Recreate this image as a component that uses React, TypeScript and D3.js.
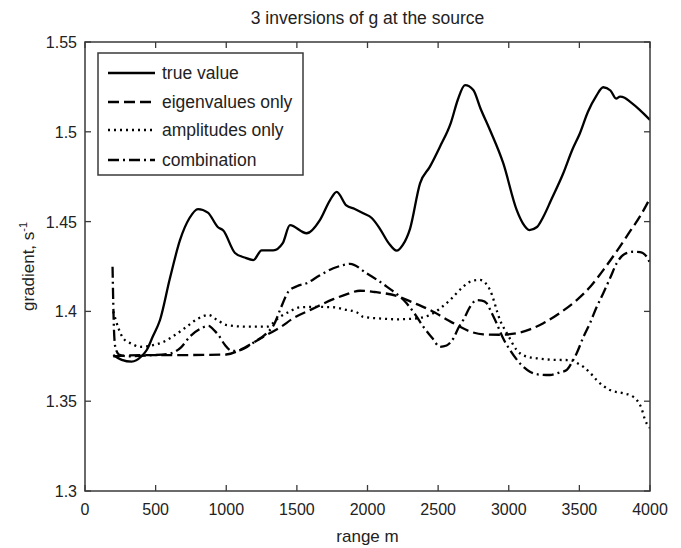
import React from "react";
import * as d3 from "d3";

// Range (m) and gradient (1/s) samples for each inversion
const trueX = [200, 260, 330, 400, 437, 480, 531, 600, 673, 740, 800, 870, 940, 979, 1062, 1130, 1192, 1251, 1333, 1400, 1451, 1569, 1664, 1735, 1782, 1850, 1910, 1970, 2030, 2088, 2150, 2206, 2250, 2301, 2372, 2442, 2513, 2590, 2640, 2690, 2749, 2800, 2867, 2961, 3056, 3100, 3146, 3200, 3245, 3300, 3386, 3450, 3504, 3560, 3620, 3669, 3720, 3760, 3788, 3820, 3858, 3929, 4000];
const trueY = [1.3757, 1.373, 1.372, 1.375, 1.3785, 1.386, 1.3952, 1.418, 1.4398, 1.452, 1.457, 1.455, 1.447, 1.445, 1.4325, 1.43, 1.4286, 1.434, 1.434, 1.438, 1.448, 1.4435, 1.451, 1.462, 1.4666, 1.459, 1.457, 1.4546, 1.452, 1.446, 1.438, 1.4338, 1.437, 1.446, 1.4713, 1.4806, 1.4917, 1.505, 1.518, 1.526, 1.5233, 1.513, 1.501, 1.4825, 1.4565, 1.449, 1.4453, 1.447, 1.4527, 1.462, 1.4769, 1.49, 1.4992, 1.511, 1.52, 1.5248, 1.523, 1.5185, 1.5196, 1.519, 1.5168, 1.5121, 1.5066];

const eigenX = [200, 400, 700, 1000, 1097, 1200, 1286, 1380, 1475, 1600, 1758, 1850, 1947, 2050, 2206, 2320, 2442, 2540, 2632, 2720, 2820, 2940, 3056, 3150, 3245, 3360, 3481, 3580, 3669, 3760, 3858, 3930, 4000];
const eigenY = [1.375, 1.3757, 1.3757, 1.376, 1.3785, 1.383, 1.3869, 1.391, 1.3962, 1.401, 1.4068, 1.4095, 1.4115, 1.4108, 1.4086, 1.405, 1.4008, 1.3965, 1.3924, 1.389, 1.3872, 1.387, 1.3878, 1.39, 1.3934, 1.399, 1.4063, 1.414, 1.423, 1.433, 1.4445, 1.453, 1.463];

const ampX = [200, 240, 271, 330, 389, 470, 554, 640, 720, 800, 873, 940, 1003, 1144, 1286, 1381, 1450, 1522, 1640, 1758, 1840, 1923, 1970, 2100, 2206, 2330, 2442, 2520, 2584, 2678, 2740, 2796, 2867, 2938, 3000, 3056, 3120, 3197, 3330, 3434, 3490, 3528, 3580, 3622, 3717, 3811, 3870, 3906, 3940, 3965, 4000];
const ampY = [1.4, 1.39, 1.385, 1.382, 1.3803, 1.381, 1.383, 1.387, 1.3915, 1.396, 1.398, 1.395, 1.3924, 1.3915, 1.3915, 1.397, 1.4, 1.4023, 1.4025, 1.4023, 1.401, 1.3995, 1.397, 1.396, 1.3956, 1.396, 1.398, 1.402, 1.4063, 1.4138, 1.417, 1.4175, 1.412, 1.3952, 1.386, 1.3785, 1.375, 1.3739, 1.373, 1.3729, 1.371, 1.3692, 1.3655, 1.3618, 1.3562, 1.3544, 1.353, 1.3507, 1.346, 1.3396, 1.335];

const combX = [195, 200, 205, 215, 240, 300, 450, 600, 680, 743, 810, 873, 920, 944, 991, 1040, 1100, 1200, 1286, 1340, 1381, 1440, 1500, 1569, 1660, 1758, 1829, 1876, 1994, 2136, 2277, 2340, 2395, 2460, 2513, 2560, 2608, 2645, 2678, 2730, 2773, 2810, 2844, 2880, 2914, 2960, 3009, 3080, 3150, 3220, 3292, 3360, 3410, 3450, 3481, 3530, 3575, 3620, 3669, 3720, 3764, 3820, 3882, 3930, 3976, 4000];
const combY = [1.4249, 1.405, 1.39, 1.38, 1.376, 1.375, 1.3755, 1.3765, 1.38, 1.386, 1.39, 1.3919, 1.389, 1.3869, 1.3813, 1.378, 1.3785, 1.383, 1.3878, 1.393, 1.4008, 1.411, 1.414, 1.4157, 1.42, 1.424, 1.4258, 1.4265, 1.4212, 1.4138, 1.4045, 1.398, 1.3915, 1.385, 1.3803, 1.381, 1.385, 1.391, 1.3952, 1.403, 1.4063, 1.406, 1.4045, 1.399, 1.3934, 1.385, 1.3785, 1.371, 1.3664, 1.3648, 1.3646, 1.366, 1.3674, 1.372, 1.3767, 1.386, 1.3934, 1.402, 1.4101, 1.419, 1.4268, 1.432, 1.4332, 1.433, 1.4305, 1.427];

const xTicks = [0, 500, 1000, 1500, 2000, 2500, 3000, 3500, 4000];
const yTicks = [1.3, 1.35, 1.4, 1.45, 1.5, 1.55];

const seriesNames = ["true value", "eigenvalues only", "amplitudes only", "combination"];
const dashes = ["none", "11 5", "2 4", "11 4 2 4"];

const W = 681;
const H = 548;
const plot = { left: 85, right: 650, top: 42, bottom: 491 };
const labelFont = "'Liberation Sans', Arial, sans-serif";
const tickFont = "'Liberation Sans Narrow', 'Liberation Sans', Arial, sans-serif";

export default function App() {
  const x = d3.scaleLinear().domain([0, 4000]).range([plot.left, plot.right]);
  const y = d3.scaleLinear().domain([1.3, 1.55]).range([plot.bottom, plot.top]);

  const line = d3
    .line<[number, number]>()
    .x((d) => x(d[0]))
    .y((d) => y(d[1]))
    .curve(d3.curveMonotoneX);

  const series = [
    d3.zip(trueX, trueY),
    d3.zip(eigenX, eigenY),
    d3.zip(ampX, ampY),
    d3.zip(combX, combY),
  ] as [number, number][][];

  const axisColor = "#3a3a3a";
  const tickLen = 6;

  const legend = { left: 98, top: 53, right: 303, bottom: 175 };
  const legendRows = [73, 102, 130, 160];

  return (
    <svg
      width={W}
      height={H}
      style={{ position: "absolute", left: 0, top: 0, background: "#fff" }}
    >
      <rect x={0} y={0} width={W} height={H} fill="#fff" />
      <text
        x={(plot.left + plot.right) / 2}
        y={24}
        textAnchor="middle"
        fontFamily={labelFont}
        fontSize={17.5}
        fill="#222"
      >
        3 inversions of g at the source
      </text>

      {/* data curves */}
      <g clipPath="url(#plotClip)">
        {series.map((s, i) => (
          <path
            key={i}
            d={line(s) || ""}
            fill="none"
            stroke="#000"
            strokeWidth={2.3}
            strokeDasharray={dashes[i] === "none" ? undefined : dashes[i]}
            strokeLinejoin="round"
          />
        ))}
      </g>
      <defs>
        <clipPath id="plotClip">
          <rect x={plot.left} y={plot.top} width={plot.right - plot.left} height={plot.bottom - plot.top} />
        </clipPath>
      </defs>

      {/* axes box */}
      <rect
        x={plot.left}
        y={plot.top}
        width={plot.right - plot.left}
        height={plot.bottom - plot.top}
        fill="none"
        stroke={axisColor}
        strokeWidth={1.5}
      />
      {xTicks.map((t) => (
        <g key={"x" + t}>
          <line x1={x(t)} x2={x(t)} y1={plot.bottom} y2={plot.bottom - tickLen} stroke={axisColor} strokeWidth={1.3} />
          <line x1={x(t)} x2={x(t)} y1={plot.top} y2={plot.top + tickLen} stroke={axisColor} strokeWidth={1.3} />
          <text
            x={x(t)}
            y={plot.bottom + 24}
            textAnchor="middle"
            fontFamily={tickFont}
            fontSize={16}
            fill="#222"
          >
            {t}
          </text>
        </g>
      ))}
      {yTicks.map((t) => (
        <g key={"y" + t}>
          <line x1={plot.left} x2={plot.left + tickLen} y1={y(t)} y2={y(t)} stroke={axisColor} strokeWidth={1.3} />
          <line x1={plot.right} x2={plot.right - tickLen} y1={y(t)} y2={y(t)} stroke={axisColor} strokeWidth={1.3} />
          <text
            x={plot.left - 8}
            y={y(t) + 6}
            textAnchor="end"
            fontFamily={tickFont}
            fontSize={16}
            fill="#222"
          >
            {String(t)}
          </text>
        </g>
      ))}

      <text
        x={(plot.left + plot.right) / 2}
        y={542}
        textAnchor="middle"
        fontFamily={labelFont}
        fontSize={17}
        fill="#222"
      >
        range m
      </text>
      <text
        transform={`translate(34, ${(plot.top + plot.bottom) / 2}) rotate(-90)`}
        textAnchor="middle"
        fontFamily={labelFont}
        fontSize={17}
        fill="#222"
      >
        gradient, s
        <tspan fontSize={11} dy={-7}>-1</tspan>
      </text>

      {/* legend */}
      <rect
        x={legend.left}
        y={legend.top}
        width={legend.right - legend.left}
        height={legend.bottom - legend.top}
        fill="#fff"
        stroke={axisColor}
        strokeWidth={1.5}
      />
      {seriesNames.map((name, i) => (
        <g key={name}>
          <line
            x1={108}
            x2={155}
            y1={legendRows[i]}
            y2={legendRows[i]}
            stroke="#000"
            strokeWidth={2.3}
            strokeDasharray={dashes[i] === "none" ? undefined : dashes[i]}
          />
          <text
            x={162}
            y={legendRows[i] + 6}
            fontFamily={labelFont}
            fontSize={17.5}
            fill="#222"
          >
            {name}
          </text>
        </g>
      ))}
    </svg>
  );
}
